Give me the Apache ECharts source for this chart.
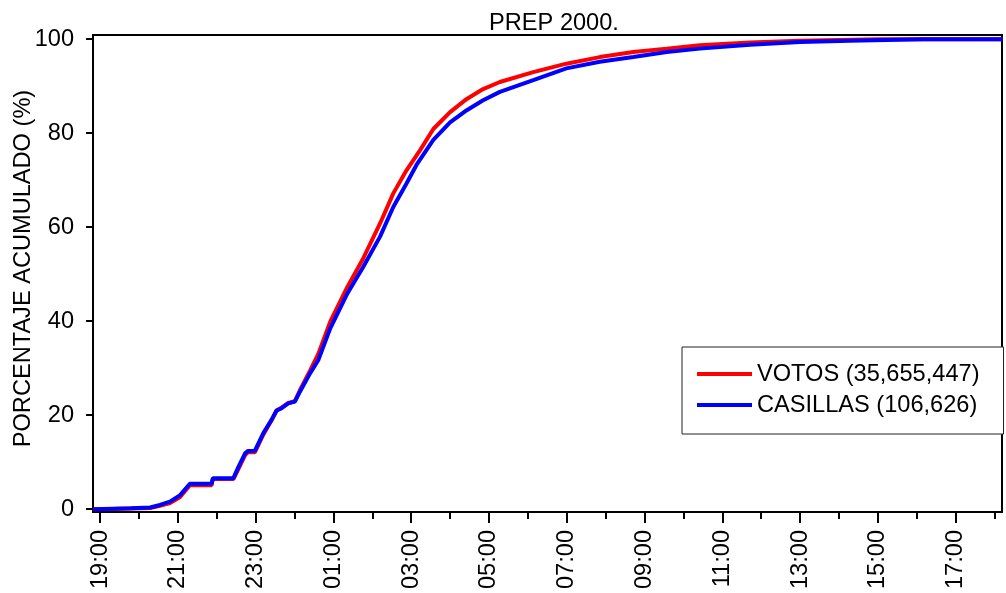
<!DOCTYPE html>
<html>
<head>
<meta charset="utf-8">
<script src="https://cdn.jsdelivr.net/npm/echarts@6/dist/echarts.min.js"></script>
<style>
  html, body { margin: 0; padding: 0; background: #fff; }
  #chart { width: 1006px; height: 593px; }
</style>
</head>
<body>
<div id="chart"></div>
<script>
// hours counted from midnight of election day (25 = 01:00 next day)
var votosHoras = [18.83, 19.33, 19.8, 20.29, 20.54, 20.8, 21.06, 21.31, 21.87, 21.9, 22.43, 22.56, 22.73, 22.8, 22.98,
  23.2, 23.41, 23.54, 23.67, 23.84, 24.01, 24.14, 24.4, 24.61, 24.92, 25.36, 25.77, 26.2, 26.54, 26.88, 27.23,
  27.57, 28.0, 28.43, 28.85, 29.28, 30.14, 30.99, 31.85, 32.71, 33.57, 34.42, 35.71, 36.99, 39.05, 42.2];
var votosPct = [0, 0.05, 0.15, 0.25, 0.7, 1.3, 2.6, 5.1, 5.1, 6.4, 6.4, 8.6, 11.5, 12.1, 12.1,
  15.9, 18.9, 21.0, 21.6, 22.6, 23.0, 25.3, 29.5, 33.0, 39.9, 47.3, 53.4, 60.8, 67.2, 72.1, 76.4,
  80.9, 84.5, 87.3, 89.4, 90.9, 93.0, 94.8, 96.2, 97.3, 98.0, 98.7, 99.3, 99.7, 100, 100];

var casillasHoras = [18.83, 19.33, 19.8, 20.29, 20.54, 20.8, 21.06, 21.31, 21.87, 21.9, 22.43, 22.56, 22.73, 22.8, 22.98,
  23.2, 23.41, 23.54, 23.67, 23.84, 24.01, 24.14, 24.4, 24.61, 24.92, 25.36, 25.77, 26.2, 26.54, 26.88, 27.14,
  27.57, 28.0, 28.43, 28.85, 29.28, 30.14, 30.99, 31.85, 32.71, 33.57, 34.42, 35.71, 36.99, 38.28, 40.16, 42.2];
var casillasPct = [0, 0.1, 0.2, 0.35, 0.9, 1.6, 3.0, 5.4, 5.4, 6.6, 6.6, 9.0, 11.9, 12.4, 12.4,
  16.2, 19.0, 21.0, 21.5, 22.5, 22.9, 25.0, 28.9, 31.7, 38.5, 45.9, 51.6, 58.0, 64.3, 69.3, 73.3,
  78.6, 82.3, 84.9, 87.0, 88.8, 91.3, 93.8, 95.2, 96.2, 97.3, 98.0, 98.8, 99.4, 99.7, 100, 100];

var etiquetasHora = [19, 21, 23, 25, 27, 29, 31, 33, 35, 37, 39, 41];
var ticksMenores = [20, 22, 24, 26, 28, 30, 32, 34, 36, 38, 40, 42];
var ticksY = [0, 20, 40, 60, 80, 100];

var FONT = "'Liberation Sans', Arial, sans-serif";
var FS = 23.6;

function pares(xs, ys) {
  var out = [];
  for (var i = 0; i < xs.length; i++) out.push([xs[i], ys[i]]);
  return out;
}

function fmtHora(v) {
  var h = Math.round(v) % 24;
  return (h < 10 ? '0' : '') + h + ':00';
}

var xMin = 18.82, xMax = 42.19;

var option = {
  animation: false,
  backgroundColor: '#fff',
  textStyle: { fontFamily: FONT },
  title: {
    text: 'PREP 2000.',
    left: 549,
    textAlign: 'center',
    top: 6,
    textStyle: { fontFamily: FONT, fontSize: FS, fontWeight: 'normal', color: '#000' }
  },
  grid: {
    left: 93,
    right: 4,
    top: 35,
    bottom: 81,
    containLabel: false,
    outerBoundsMode: 'none',
    show: true,
    borderColor: '#000',
    borderWidth: 2
  },
  legend: {
    orient: 'vertical',
    left: 682,
    top: 347,
    padding: [15, 24, 17, 15],
    itemGap: 7,
    itemWidth: 55,
    itemHeight: 4,
    itemTextGap: 11,
    icon: 'rect',
    borderColor: '#222',
    borderWidth: 1,
    backgroundColor: '#fff',
    textStyle: { fontFamily: FONT, fontSize: FS, color: '#000' },
    data: ['VOTOS (35,655,447)', 'CASILLAS (106,626)']
  },
  xAxis: [
    {
      type: 'value',
      min: xMin,
      max: xMax,
      position: 'bottom',
      splitLine: { show: false },
      axisLine: { onZero: false, lineStyle: { color: '#000', width: 2 } },
      axisTick: { customValues: etiquetasHora, length: 11, lineStyle: { color: '#000', width: 2 } },
      axisLabel: {
        customValues: etiquetasHora,
        rotate: 90,
        margin: 18,
        fontFamily: FONT,
        fontSize: FS,
        color: '#000',
        formatter: fmtHora
      }
    },
    {
      type: 'value',
      min: xMin,
      max: xMax,
      position: 'bottom',
      splitLine: { show: false },
      axisLine: { show: false, onZero: false },
      axisTick: { customValues: ticksMenores, length: 7, lineStyle: { color: '#000', width: 2 } },
      axisLabel: { show: false }
    }
  ],
  yAxis: {
    type: 'value',
    min: -0.6,
    max: 100.9,
    name: 'PORCENTAJE ACUMULADO (%)',
    nameLocation: 'middle',
    nameGap: 58,
    nameMoveOverlap: false,
    nameTextStyle: { fontFamily: FONT, fontSize: FS, color: '#000', padding: [0, 0, 0, 10] },
    splitLine: { show: false },
    axisLine: { show: true, onZero: false, lineStyle: { color: '#000', width: 2 } },
    axisTick: { show: true, customValues: ticksY, length: 7, lineStyle: { color: '#000', width: 2 } },
    axisLabel: {
      customValues: ticksY,
      margin: 19,
      fontFamily: FONT,
      fontSize: FS,
      color: '#000'
    }
  },
  series: [
    {
      name: 'VOTOS (35,655,447)',
      type: 'line',
      showSymbol: false,
      symbol: 'none',
      color: '#ff0000',
      lineStyle: { color: '#ff0000', width: 4 },
      data: pares(votosHoras, votosPct)
    },
    {
      name: 'CASILLAS (106,626)',
      type: 'line',
      showSymbol: false,
      symbol: 'none',
      color: '#0000ff',
      lineStyle: { color: '#0000ff', width: 4 },
      data: pares(casillasHoras, casillasPct)
    }
  ]
};

var myChart = echarts.init(document.getElementById('chart'));
myChart.setOption(option);
</script>
</body>
</html>
